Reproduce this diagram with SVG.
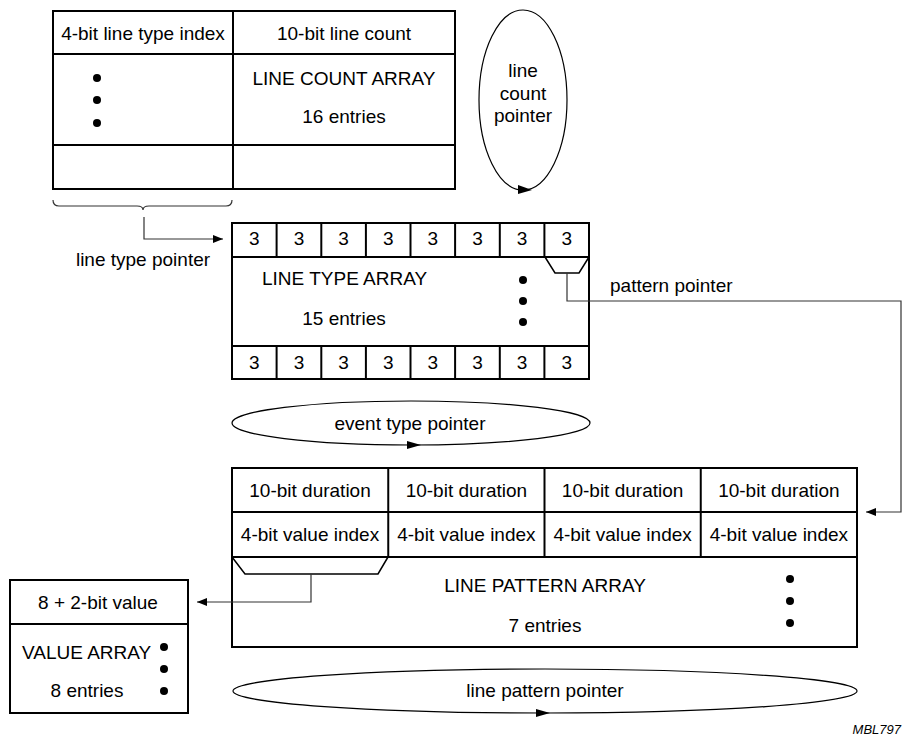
<svg xmlns="http://www.w3.org/2000/svg" width="905" height="738" viewBox="0 0 905 738">
<style>
text{font-family:"Liberation Sans",Arial,sans-serif;font-size:19px;fill:#000}
.c{text-anchor:middle}
.box{fill:none;stroke:#000;stroke-width:2}
.conn{fill:none;stroke:#333;stroke-width:1.2}
.ell{fill:none;stroke:#000;stroke-width:1.2}
.dot{fill:#000}
.ah{fill:#000}
.mbl{font-size:13px;font-style:italic;text-anchor:end}
</style>
<defs>
<marker id="arr" viewBox="0 0 10 8" refX="10" refY="4" markerWidth="14" markerHeight="8" markerUnits="userSpaceOnUse" orient="auto">
<path d="M0,0 L10,4 L0,8 Z" fill="#000"/>
</marker>
</defs>
<rect width="905" height="738" fill="#fff"/>

<g id="line-count-array">
<rect class="box" x="53" y="11" width="402" height="178"/>
<line class="box" x1="233" y1="11" x2="233" y2="189"/>
<line class="box" x1="53" y1="54" x2="455" y2="54"/>
<line class="box" x1="53" y1="145" x2="455" y2="145"/>
<text class="c" x="143" y="39.5">4-bit line type index</text>
<text class="c" x="344" y="39.5">10-bit line count</text>
<text class="c" x="344" y="85">LINE COUNT ARRAY</text>
<text class="c" x="344" y="123">16 entries</text>
<circle class="dot" cx="97" cy="78" r="4"/>
<circle class="dot" cx="97" cy="100" r="4"/>
<circle class="dot" cx="97" cy="123" r="4"/>
</g>

<g id="line-count-pointer">
<ellipse class="ell" cx="523" cy="100" rx="44" ry="90"/>
<path class="ah" d="M518,185 L532,190 L518,194 Z"/>
<text class="c" x="523" y="77">line</text>
<text class="c" x="523" y="100">count</text>
<text class="c" x="523" y="122">pointer</text>
</g>

<g id="line-type-array">
<rect class="box" x="232" y="223" width="357" height="156"/>
<line class="box" x1="232" y1="257" x2="589" y2="257"/>
<line class="box" x1="232" y1="346" x2="589" y2="346"/>
<g class="box">
<line x1="276.6" y1="223" x2="276.6" y2="257"/><line x1="321.3" y1="223" x2="321.3" y2="257"/>
<line x1="365.9" y1="223" x2="365.9" y2="257"/><line x1="410.5" y1="223" x2="410.5" y2="257"/>
<line x1="455.1" y1="223" x2="455.1" y2="257"/><line x1="499.8" y1="223" x2="499.8" y2="257"/>
<line x1="544.4" y1="223" x2="544.4" y2="257"/>
<line x1="276.6" y1="346" x2="276.6" y2="379"/><line x1="321.3" y1="346" x2="321.3" y2="379"/>
<line x1="365.9" y1="346" x2="365.9" y2="379"/><line x1="410.5" y1="346" x2="410.5" y2="379"/>
<line x1="455.1" y1="346" x2="455.1" y2="379"/><line x1="499.8" y1="346" x2="499.8" y2="379"/>
<line x1="544.4" y1="346" x2="544.4" y2="379"/>
</g>
<g class="c">
<text x="254.3" y="245">3</text><text x="299" y="245">3</text><text x="343.6" y="245">3</text><text x="388.2" y="245">3</text>
<text x="432.8" y="245">3</text><text x="477.5" y="245">3</text><text x="522.1" y="245">3</text><text x="566.7" y="245">3</text>
<text x="254.3" y="369">3</text><text x="299" y="369">3</text><text x="343.6" y="369">3</text><text x="388.2" y="369">3</text>
<text x="432.8" y="369">3</text><text x="477.5" y="369">3</text><text x="522.1" y="369">3</text><text x="566.7" y="369">3</text>
</g>
<path d="M545,257 L555,273 L579,273 L589,257" fill="none" stroke="#000" stroke-width="1.5"/>
<text x="262" y="285">LINE TYPE ARRAY</text>
<text class="c" x="344" y="325">15 entries</text>
<circle class="dot" cx="523" cy="280" r="4"/>
<circle class="dot" cx="523" cy="301" r="4"/>
<circle class="dot" cx="523" cy="322" r="4"/>
</g>

<g id="event-type-pointer">
<ellipse class="ell" cx="411" cy="423" rx="179" ry="22"/>
<path class="ah" d="M407,441 L421,445 L407,449 Z"/>
<text class="c" x="410" y="430">event type pointer</text>
</g>

<g id="line-pattern-array">
<rect class="box" x="232" y="468" width="625" height="179"/>
<line class="box" x1="232" y1="512" x2="857" y2="512"/>
<line class="box" x1="232" y1="557" x2="857" y2="557"/>
<line class="box" x1="388.25" y1="468" x2="388.25" y2="557"/>
<line class="box" x1="544.5" y1="468" x2="544.5" y2="557"/>
<line class="box" x1="700.75" y1="468" x2="700.75" y2="557"/>
<g class="c">
<text x="310" y="497">10-bit duration</text><text x="466.4" y="497">10-bit duration</text>
<text x="622.6" y="497">10-bit duration</text><text x="778.9" y="497">10-bit duration</text>
<text x="310" y="541">4-bit value index</text><text x="466.4" y="541">4-bit value index</text>
<text x="622.6" y="541">4-bit value index</text><text x="778.9" y="541">4-bit value index</text>
</g>
<path d="M232,557 L245,574 L378,574 L388,557" fill="none" stroke="#000" stroke-width="1.5"/>
<text class="c" x="545" y="592">LINE PATTERN ARRAY</text>
<text class="c" x="545" y="632">7 entries</text>
<circle class="dot" cx="790" cy="579" r="4"/>
<circle class="dot" cx="790" cy="601" r="4"/>
<circle class="dot" cx="790" cy="623" r="4"/>
</g>

<g id="value-array">
<rect class="box" x="10" y="580" width="178" height="133"/>
<line class="box" x1="10" y1="624" x2="188" y2="624"/>
<text class="c" x="98" y="609">8 + 2-bit value</text>
<text x="22" y="659">VALUE ARRAY</text>
<text class="c" x="87" y="697">8 entries</text>
<circle class="dot" cx="164" cy="647" r="4"/>
<circle class="dot" cx="164" cy="669" r="4"/>
<circle class="dot" cx="164" cy="691" r="4"/>
</g>

<g id="line-pattern-pointer">
<ellipse class="ell" cx="545" cy="691" rx="312" ry="22"/>
<path class="ah" d="M536,709 L550,713 L536,717 Z"/>
<text class="c" x="545" y="697">line pattern pointer</text>
</g>

<g id="connectors">
<path class="conn" d="M53,200 Q53,206 59,206 L137,206 Q143,206 143,210 Q143,206 149,206 L226,206 Q232,206 232,200"/>
<path class="conn" d="M144,217 L144,239 L223,239" marker-end="url(#arr)"/>
<path class="conn" d="M567,273 L567,301 L901,301 L901,512 L866,512" marker-end="url(#arr)"/>
<path class="conn" d="M311,574 L311,602 L197,602" marker-end="url(#arr)"/>
</g>
<g id="labels">
<text class="c" x="143" y="266">line type pointer</text>
<text x="610" y="292">pattern pointer</text>
<text class="mbl" x="901" y="734">MBL797</text>
</g>
</svg>
